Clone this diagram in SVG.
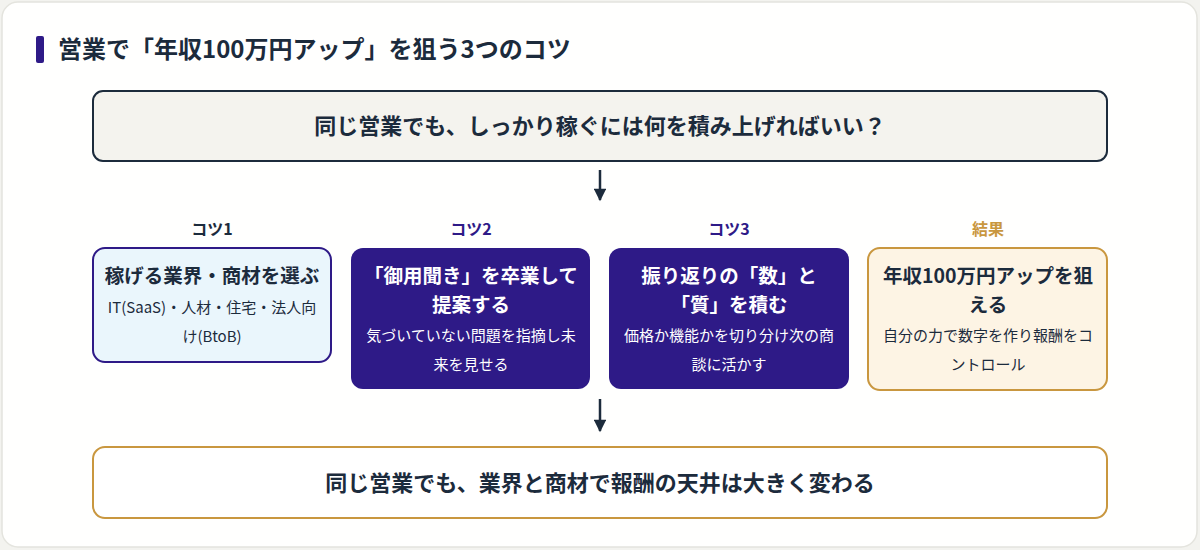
<svg xmlns="http://www.w3.org/2000/svg" width="1200" height="550" viewBox="0 0 1200 550">
<defs>
<style>
text{font-family:"Noto Sans CJK JP","Noto Sans",sans-serif;text-anchor:middle;}
.ttl{font-size:24px;font-weight:700;fill:#1c2b3c;text-anchor:start;}
.big{font-size:22px;font-weight:700;fill:#1c2b3c;}
.lbl{font-size:16px;font-weight:700;}
.h{font-size:19.5px;font-weight:700;}
.s{font-size:15px;font-weight:400;}
.dark{fill:#1c2b3c;}
.wh{fill:#ffffff;}
.pur{fill:#2e1a87;}
.gold{fill:#c9973f;}
.conn{stroke:#1c2b3c;stroke-width:2.5;fill:none;}
</style>
<marker id="ah" viewBox="0 0 10 10" refX="9" refY="5" markerWidth="6" markerHeight="5" markerUnits="strokeWidth" orient="auto">
<path d="M0,0 L10,5 L0,10 Z" fill="#1c2b3c"/>
</marker>
</defs>
<rect x="0" y="0" width="1200" height="550" fill="#f3f3ef"/>
<rect x="2" y="2" width="1195" height="545" rx="16" fill="#fffffe" stroke="#e4e4de" stroke-width="1.5"/>
<g id="title">
<rect x="36" y="36" width="8" height="27" rx="2" fill="#2e1a87"/>
<text class="ttl" x="58" y="58">営業で「年収100万円アップ」を狙う3つのコツ</text>
</g>
<g id="question">
<rect x="93" y="91" width="1014" height="70" rx="10" fill="#f4f3ee" stroke="#1c2b3c" stroke-width="2"/>
<text class="big" x="600" y="134">同じ営業でも、しっかり稼ぐには何を積み上げればいい？</text>
</g>
<g id="tip1">
<text class="lbl dark" x="212" y="235">コツ1</text>
<rect x="93" y="248" width="238" height="114" rx="12" fill="#eaf6fc" stroke="#2e1a87" stroke-width="2"/>
<text class="h dark" x="212" y="283">稼げる業界・商材を選ぶ</text>
<text class="s dark" x="212" y="313">IT(SaaS)・人材・住宅・法人向</text>
<text class="s dark" x="212" y="342">け(BtoB)</text>
</g>
<g id="tip2">
<text class="lbl pur" x="471" y="235">コツ2</text>
<rect x="351" y="248" width="239" height="141" rx="12" fill="#2e1a87"/>
<text class="h wh" x="471" y="283">「御用聞き」を卒業して</text>
<text class="h wh" x="471" y="312">提案する</text>
<text class="s wh" x="471" y="341">気づいていない問題を指摘し未</text>
<text class="s wh" x="471" y="370">来を見せる</text>
</g>
<g id="tip3">
<text class="lbl pur" x="729" y="235">コツ3</text>
<rect x="609" y="248" width="240" height="141" rx="12" fill="#2e1a87"/>
<text class="h wh" x="729" y="283">振り返りの「数」と</text>
<text class="h wh" x="729" y="312">「質」を積む</text>
<text class="s wh" x="729" y="341">価格か機能かを切り分け次の商</text>
<text class="s wh" x="729" y="370">談に活かす</text>
</g>
<g id="result">
<text class="lbl gold" x="988" y="235">結果</text>
<rect x="868" y="248" width="239" height="142" rx="12" fill="#fdf4e4" stroke="#c9973f" stroke-width="2"/>
<text class="h dark" x="988" y="283">年収100万円アップを狙</text>
<text class="h dark" x="988" y="312">える</text>
<text class="s dark" x="988" y="341">自分の力で数字を作り報酬をコ</text>
<text class="s dark" x="988" y="370">ントロール</text>
</g>
<g id="conclusion">
<rect x="93" y="447" width="1014" height="71" rx="12" fill="#ffffff" stroke="#c9973f" stroke-width="2"/>
<text class="big" x="600" y="491">同じ営業でも、業界と商材で報酬の天井は大きく変わる</text>
</g>
<g id="connectors">
<line class="conn" x1="600" y1="170" x2="600" y2="200" marker-end="url(#ah)"/>
<line class="conn" x1="600" y1="399" x2="600" y2="431" marker-end="url(#ah)"/>
</g>
</svg>
